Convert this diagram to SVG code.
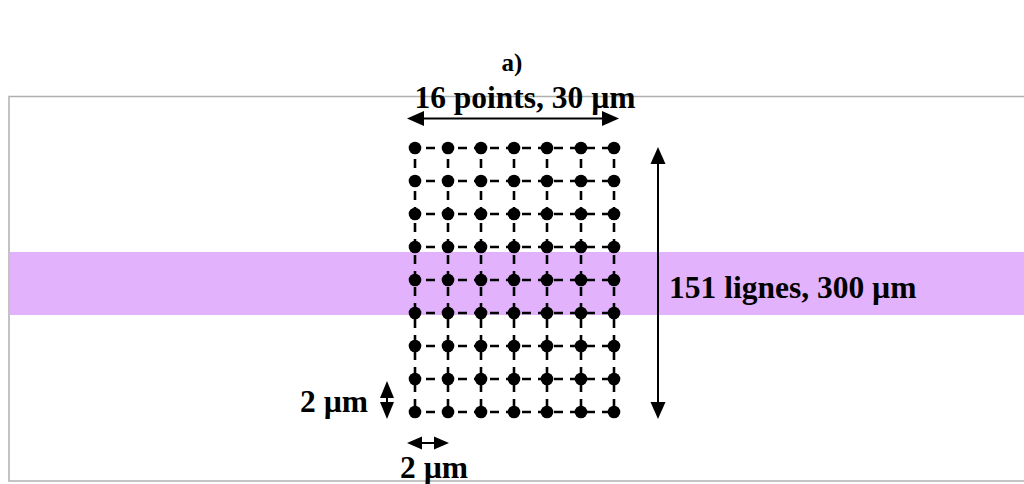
<svg xmlns="http://www.w3.org/2000/svg" width="1024" height="484" viewBox="0 0 1024 484">
<defs>
<style>
.t{font-family:"Liberation Serif","Times New Roman",serif;font-weight:bold;fill:#000}
.g{stroke:#000;stroke-width:2.6;stroke-dasharray:9 7;fill:none}
.a{stroke:#000;stroke-width:2;fill:none}
.d{fill:#000}
</style>
</defs>
<rect x="0" y="0" width="1024" height="484" fill="#fff"/>
<text class="t" x="512" y="71" font-size="25" text-anchor="middle">a)</text>
<rect x="9" y="96.5" width="1030" height="384.5" fill="#fff" stroke="#b0b0b0" stroke-width="1.5"/>
<rect id="band" x="10" y="252" width="1014" height="63" fill="#e2b3fc"/>
<g id="grid">
<g id="hlines">
<line class="g" x1="410" y1="148" x2="620" y2="148"/>
<line class="g" x1="410" y1="181" x2="620" y2="181"/>
<line class="g" x1="410" y1="214" x2="620" y2="214"/>
<line class="g" x1="410" y1="247" x2="620" y2="247"/>
<line class="g" x1="410" y1="280" x2="620" y2="280"/>
<line class="g" x1="410" y1="313" x2="620" y2="313"/>
<line class="g" x1="410" y1="346" x2="620" y2="346"/>
<line class="g" x1="410" y1="379" x2="620" y2="379"/>
<line class="g" x1="410" y1="412" x2="620" y2="412"/>
</g>
<g id="vlines">
<line class="g" x1="415" y1="143" x2="415" y2="412"/>
<line class="g" x1="448" y1="143" x2="448" y2="412"/>
<line class="g" x1="481" y1="143" x2="481" y2="412"/>
<line class="g" x1="514" y1="143" x2="514" y2="412"/>
<line class="g" x1="547" y1="143" x2="547" y2="412"/>
<line class="g" x1="581" y1="143" x2="581" y2="412"/>
<line class="g" x1="614" y1="143" x2="614" y2="412"/>
</g>
<g id="dots" class="d">
<g id="r1"><circle cx="415" cy="148" r="6.3"/><circle cx="448" cy="148" r="6.3"/><circle cx="481" cy="148" r="6.3"/><circle cx="514" cy="148" r="6.3"/><circle cx="547" cy="148" r="6.3"/><circle cx="581" cy="148" r="6.3"/><circle cx="614" cy="148" r="6.3"/></g>
<g id="r2"><circle cx="415" cy="181" r="6.3"/><circle cx="448" cy="181" r="6.3"/><circle cx="481" cy="181" r="6.3"/><circle cx="514" cy="181" r="6.3"/><circle cx="547" cy="181" r="6.3"/><circle cx="581" cy="181" r="6.3"/><circle cx="614" cy="181" r="6.3"/></g>
<g id="r3"><circle cx="415" cy="214" r="6.3"/><circle cx="448" cy="214" r="6.3"/><circle cx="481" cy="214" r="6.3"/><circle cx="514" cy="214" r="6.3"/><circle cx="547" cy="214" r="6.3"/><circle cx="581" cy="214" r="6.3"/><circle cx="614" cy="214" r="6.3"/></g>
<g id="r4"><circle cx="415" cy="247" r="6.3"/><circle cx="448" cy="247" r="6.3"/><circle cx="481" cy="247" r="6.3"/><circle cx="514" cy="247" r="6.3"/><circle cx="547" cy="247" r="6.3"/><circle cx="581" cy="247" r="6.3"/><circle cx="614" cy="247" r="6.3"/></g>
<g id="r5"><circle cx="415" cy="280" r="6.3"/><circle cx="448" cy="280" r="6.3"/><circle cx="481" cy="280" r="6.3"/><circle cx="514" cy="280" r="6.3"/><circle cx="547" cy="280" r="6.3"/><circle cx="581" cy="280" r="6.3"/><circle cx="614" cy="280" r="6.3"/></g>
<g id="r6"><circle cx="415" cy="313" r="6.3"/><circle cx="448" cy="313" r="6.3"/><circle cx="481" cy="313" r="6.3"/><circle cx="514" cy="313" r="6.3"/><circle cx="547" cy="313" r="6.3"/><circle cx="581" cy="313" r="6.3"/><circle cx="614" cy="313" r="6.3"/></g>
<g id="r7"><circle cx="415" cy="346" r="6.3"/><circle cx="448" cy="346" r="6.3"/><circle cx="481" cy="346" r="6.3"/><circle cx="514" cy="346" r="6.3"/><circle cx="547" cy="346" r="6.3"/><circle cx="581" cy="346" r="6.3"/><circle cx="614" cy="346" r="6.3"/></g>
<g id="r8"><circle cx="415" cy="379" r="6.3"/><circle cx="448" cy="379" r="6.3"/><circle cx="481" cy="379" r="6.3"/><circle cx="514" cy="379" r="6.3"/><circle cx="547" cy="379" r="6.3"/><circle cx="581" cy="379" r="6.3"/><circle cx="614" cy="379" r="6.3"/></g>
<g id="r9"><circle cx="415" cy="412" r="6.3"/><circle cx="448" cy="412" r="6.3"/><circle cx="481" cy="412" r="6.3"/><circle cx="514" cy="412" r="6.3"/><circle cx="547" cy="412" r="6.3"/><circle cx="581" cy="412" r="6.3"/><circle cx="614" cy="412" r="6.3"/></g>
</g>
</g>
<g id="connectors">
<g id="arrow-width">
<line class="a" x1="420" y1="118.5" x2="606" y2="118.5"/>
<polygon class="d" points="407,118.5 424,111 424,126"/>
<polygon class="d" points="619,118.5 602,111 602,126"/>
</g>
<g id="arrow-height">
<line class="a" x1="658" y1="160" x2="658" y2="406"/>
<polygon class="d" points="658,147 650.5,164 665.5,164"/>
<polygon class="d" points="658,419 650.5,402 665.5,402"/>
</g>
<g id="arrow-2um-v">
<line class="a" x1="387" y1="394" x2="387" y2="406"/>
<polygon class="d" points="387,381 380,398 394,398"/>
<polygon class="d" points="387,419 380,402 394,402"/>
</g>
<g id="arrow-2um-h">
<line class="a" x1="418" y1="443" x2="438" y2="443"/>
<polygon class="d" points="407,443 422,436.5 422,449.5"/>
<polygon class="d" points="449,443 434,436.5 434,449.5"/>
</g>
</g>
<g id="labels">
<text class="t" x="525" y="108" font-size="31.5" text-anchor="middle">16 points, 30 µm</text>
<text class="t" x="669" y="298" font-size="31.5">151 lignes, 300 µm</text>
<text class="t" x="300" y="412" font-size="31.5">2 µm</text>
<text class="t" x="400" y="478" font-size="31.5">2 µm</text>
</g>
</svg>
